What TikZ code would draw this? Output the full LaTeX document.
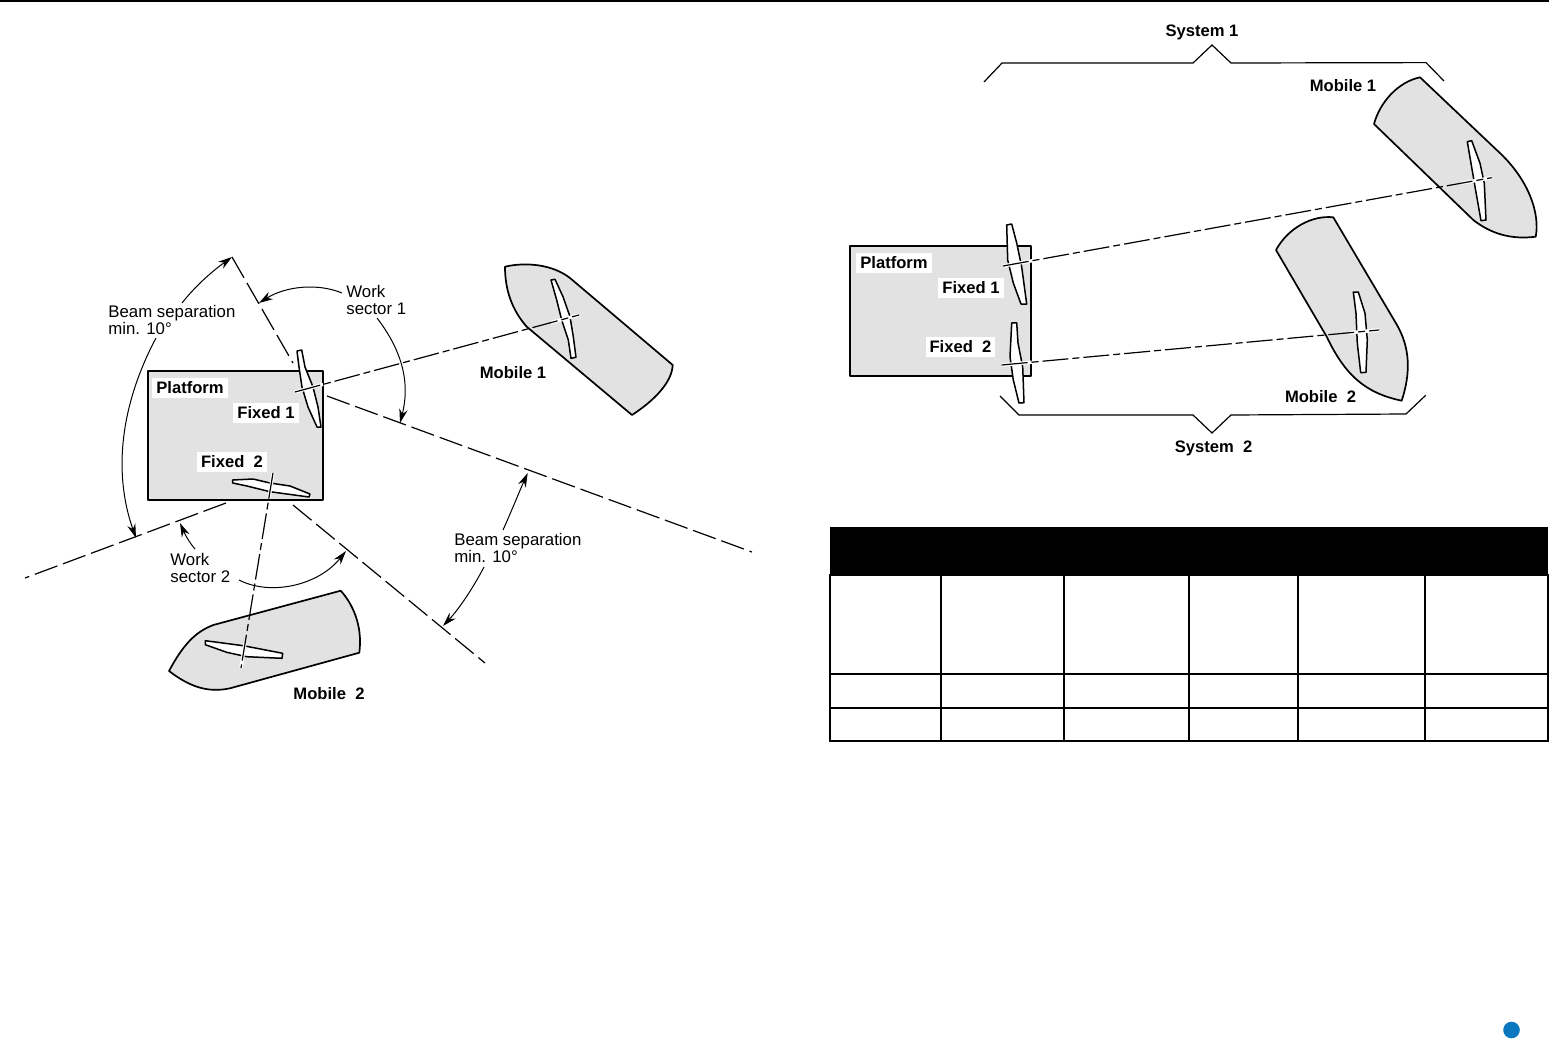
\documentclass[tikz,border=0pt]{standalone}
\usepackage{fontspec}
\setmainfont{Liberation Sans}
\usetikzlibrary{arrows.meta,positioning}
\tikzset{
  hull/.style={fill=hullgray,draw=black,line width=0.85pt,line join=round},
  antenna/.style={fill=white,draw=black,line width=0.75pt,line join=round},
  beam/.style={line width=0.6pt,dash pattern=on 13pt off 2pt on 3.5pt off 2pt},
  sector/.style={line width=0.6pt,dash pattern=on 12pt off 3pt},
  leader/.style={line width=0.5pt,->,>={Stealth[length=7pt,width=4.2pt]}},
  brace/.style={line width=0.6pt,line join=miter},
  gap/.style={white,line width=1.7pt},
  bold/.style={inner sep=2pt,fill=white,font=\fontsize{8.3}{10}\selectfont\bfseries},
  plain/.style={inner sep=0pt,anchor=west,align=left,font=\fontsize{8.4}{8.6}\selectfont},
}
\definecolor{hullgray}{HTML}{E2E2E2}
\definecolor{dotblue}{HTML}{0A78BE}
\begin{document}
\begin{tikzpicture}[x=0.5pt,y=-0.5pt]
\useasboundingbox (0,0) rectangle (1549,1039);
\fill (0,0) rectangle (1549,2);
\fill[dotblue] (1511.5,1030) circle (8.3);

% left picture
\filldraw[hull,line width=1pt] (148,371) rectangle (323,500);
\filldraw[hull] (505,266.7) .. controls (525,262) and (552,264) .. (570,278) -- (672.7,365)
  .. controls (672,382) and (655,400) .. (632,415) -- (526.7,326.7)
  .. controls (512,310) and (505,290) .. (505,266.7) -- cycle;
\filldraw[hull] (169,671) .. controls (183,645) and (195,632) .. (213.3,625) -- (340.7,590.7)
  .. controls (352,603) and (363,625) .. (359.3,652.7) -- (230,688.3)
  .. controls (208,693) and (190,687) .. (169,671) -- cycle;
\node[bold] (platformL) at (190,388) {Platform};
\node[bold] (fixedoneL) at (266,413) {Fixed 1};
\node[bold] (fixedtwoL) at (232,462) {Fixed~~2};
\filldraw[antenna] (297,351) -- (301.7,350) -- (305,367) -- (313,387) -- (318,407) -- (321,427)
  -- (317,427) -- (308,407) -- (302,387) -- (299,367) -- cycle;
\filldraw[antenna] (232.7,480) -- (253,479) -- (270,483) -- (290,486) -- (310,494) -- (309,497)
  -- (270,491.7) -- (247,486) -- (232.7,483) -- cycle;
\filldraw[antenna] (551,280) -- (555,279.3) -- (563,296.7) -- (570,316.7) -- (573.3,336.7) -- (576,357.3)
  -- (571,358.3) -- (568.3,340) -- (561.7,320) -- (556.7,300) -- cycle;
\filldraw[antenna] (205.3,640.7) -- (243.3,645.7) -- (282.7,653.3) -- (282,658.3) -- (246.7,656.7)
  -- (226.7,652.3) -- (205.3,644.7) -- cycle;

\coordinate (oneA) at (295,392);
\coordinate (oneB) at (579,315);
\coordinate (twoA) at (273,473);
\coordinate (twoB) at (241,668);
\draw[gap] (oneA) -- ++(28,-7.6);
\draw[gap] (oneB) -- ++(-28,7.6);
\draw[gap] (twoA) -- ++(-4,25);
\draw[gap] (twoB) -- ++(4,-25);
\draw[beam] (oneA) -- (oneB);
\draw[beam] (twoA) -- (twoB);

\coordinate (secA) at (232,257);
\coordinate (secB) at (293,363);
\coordinate (secC) at (327,396);
\coordinate (secD) at (752,552);
\coordinate (secE) at (226,503);
\coordinate (secF) at (25,578);
\coordinate (secG) at (293,505);
\coordinate (secH) at (485,663);
\draw[sector] (secA) -- (secB);
\draw[sector] (secC) -- (secD);
\draw[sector] (secE) -- (secF);
\draw[sector] (secG) -- (secH);

\node[plain] (beamL) at (108,320) {Beam separation\\min. 10°};
\node[plain] (workone) at (346,300) {Work\\sector 1};
\node[plain] (worktwo) at (170,568) {Work\\sector 2};
\node[plain] (beamR) at (454,548) {Beam separation\\min. 10°};
\node[bold,fill=none] (mobileoneL) at (513,373) {Mobile 1};
\node[bold,fill=none] (mobiletwoL) at (329,694) {Mobile~~2};

\coordinate (endA) at (182,303);
\coordinate (endB) at (156,338);
\coordinate (endC) at (342,293);
\coordinate (endD) at (377,318);
\coordinate (endE) at (195,549);
\coordinate (endF) at (239,580);
\coordinate (endG) at (503,530);
\coordinate (endH) at (484,567);
\draw[leader] (endA) .. controls (197,284) and (214,270) .. (secA);
\draw[leader] (endB) .. controls (122,402) and (112,470) .. (136,538);
\draw[leader] (endC) .. controls (318,283) and (286,286) .. (259,303);
\draw[leader] (endD) .. controls (400,348) and (411,380) .. (400,423);
\draw[leader] (endE) .. controls (188,541) and (184,532) .. (180,523);
\draw[leader] (endF) .. controls (270,596) and (318,586) .. (346,551);
\draw[leader] (endG) .. controls (512,510) and (520,490) .. (527.7,473);
\draw[leader] (endH) .. controls (472,590) and (458,610) .. (443,626);

% right picture
\filldraw[hull,line width=1pt] (850,246) rectangle (1030.7,376);
\filldraw[hull] (1420,77.3) .. controls (1398,82) and (1380,102) .. (1374,124) -- (1473.3,220)
  .. controls (1490,233) and (1510,240) .. (1535.7,236.7)
  .. controls (1540,215) and (1530,180) .. (1496.7,150) -- cycle;
\filldraw[hull] (1333.3,217.3) .. controls (1312,215) and (1288,228) .. (1276,250) -- (1326.7,336.7)
  .. controls (1345,375) and (1365,393) .. (1401.7,400.7)
  .. controls (1411,372) and (1410,348) .. (1397,325) -- cycle;
\node[bold] (platformR) at (894,263) {Platform};
\node[bold] (fixedoneR) at (971,288) {Fixed 1};
\node[bold] (fixedtwoR) at (960.5,347) {Fixed~~2};
\filldraw[antenna] (1006.7,225) -- (1011.7,224) -- (1016.7,243) -- (1021.7,267) -- (1026.7,304)
  -- (1021,304) -- (1013.3,283) -- (1007.7,260) -- cycle;
\filldraw[antenna] (1011.7,323) -- (1016.7,322.7) -- (1018,343) -- (1022.7,367) -- (1024,402.7)
  -- (1019,403) -- (1013.3,380) -- (1010,356.7) -- cycle;
\filldraw[antenna] (1467.3,141.7) -- (1471.7,140.7) -- (1480,163.3) -- (1484.3,183.3) -- (1486,220)
  -- (1481,220.7) -- (1475,186.7) -- (1471,163.3) -- cycle;
\filldraw[antenna] (1353.3,292) -- (1358.3,292) -- (1365,313.3) -- (1367.3,340) -- (1366,372.3)
  -- (1360.7,372.7) -- (1357.3,343.3) -- (1356,313.3) -- cycle;

\coordinate (sysoneA) at (1003,266);
\coordinate (sysoneB) at (1491.7,177.7);
\coordinate (systwoA) at (1001.7,365);
\coordinate (systwoB) at (1379,330);
\draw[gap] (sysoneA) -- ++(30,-5.4);
\draw[gap] (sysoneB) -- ++(-30,5.4);
\draw[gap] (systwoA) -- ++(30,-2.8);
\draw[gap] (systwoB) -- ++(-30,2.8);
\draw[beam] (sysoneA) -- (sysoneB);
\draw[beam] (systwoA) -- (systwoB);

\draw[brace] (984,82) -- (1002,63) -- (1193,63) -- (1212,45) -- (1231,63) -- (1426,62.6) -- (1444,81);
\draw[brace] (1000,396) -- (1019,415) -- (1193,415) -- (1212,433) -- (1231,415) -- (1406,414) -- (1425.7,395.3);
\node[bold,fill=none] (sysone) at (1202,32) {System 1};
\node[bold,fill=none] (systwo) at (1213.5,448) {System~~2};
\node[bold,fill=none] (mobileoneR) at (1343,86) {Mobile 1};
\node[bold,fill=none] (mobiletwoR) at (1320.5,397) {Mobile~~2};

% table
\fill (830,527) rectangle (1548,575);
\foreach \x in {941,1064,1189,1298,1425} {
\draw[line width=1pt] (\x,575) -- (\x,741); }
\foreach \y in {674,708} {
\draw[line width=1.3pt] (830,\y) -- (1548,\y); }
\draw[line width=1pt] (830,575) rectangle (1547.5,741);

\end{tikzpicture}
\end{document}
